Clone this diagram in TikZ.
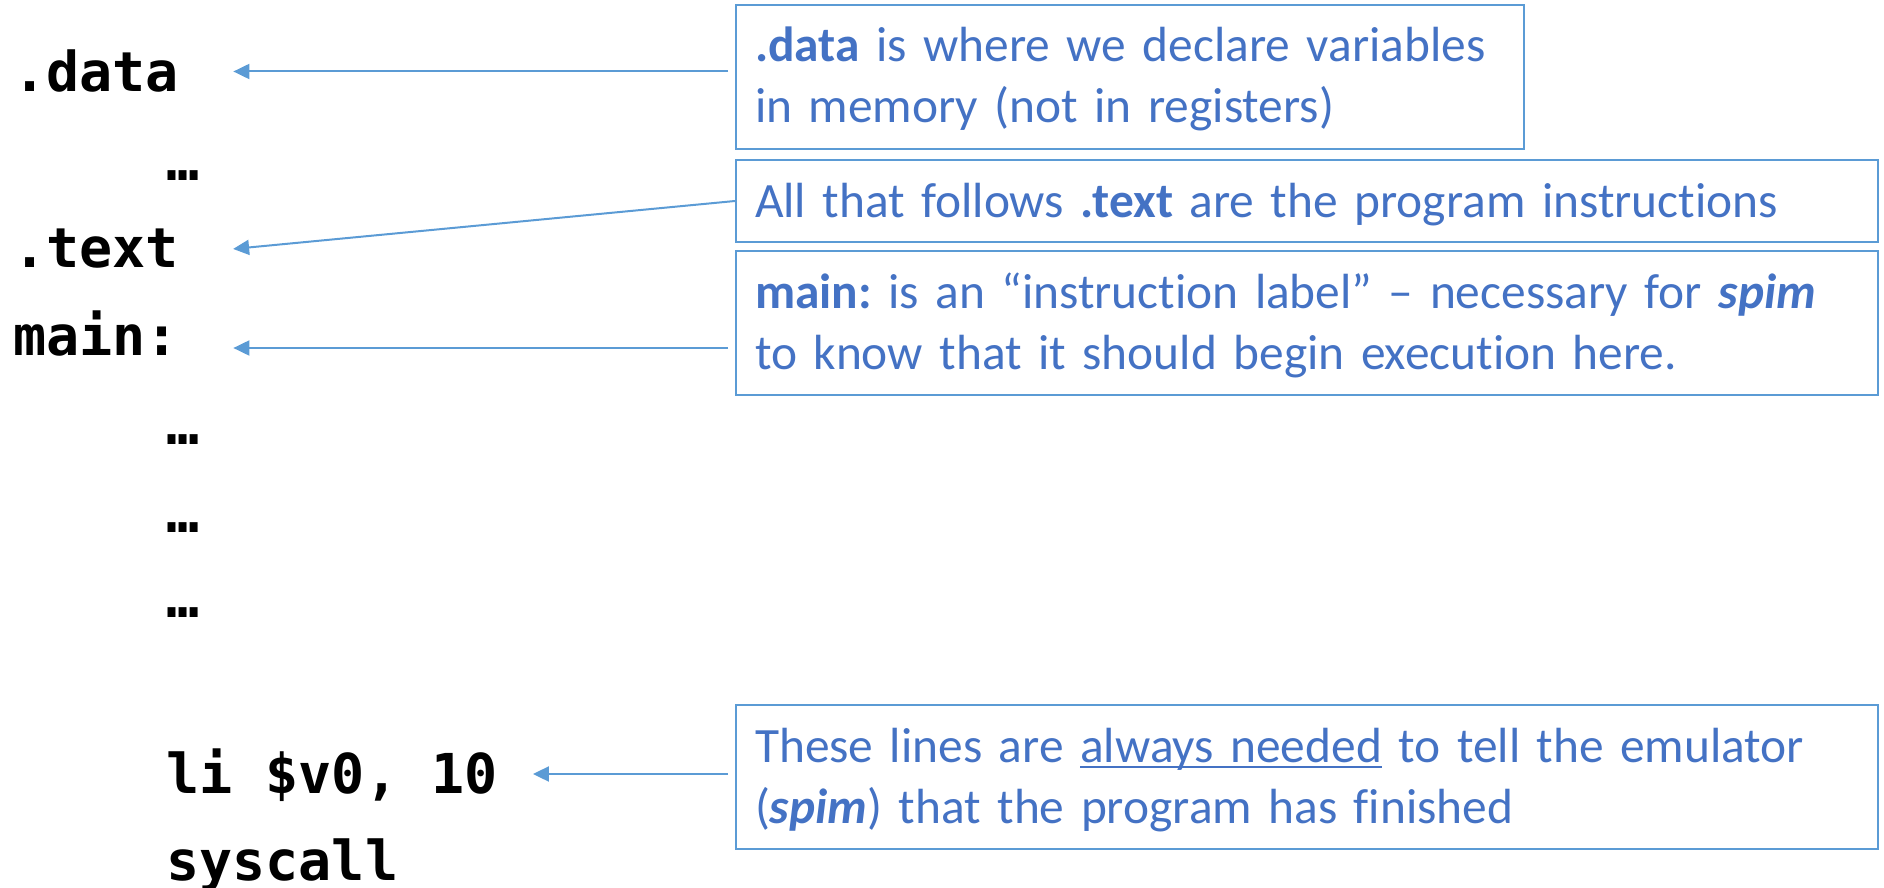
\documentclass[tikz,border=0pt]{standalone}
\usepackage{fontspec}
\setmainfont{Carlito}[Ligatures=CommonOff]
\setmonofont{DejaVu Sans Mono}
\usetikzlibrary{arrows.meta}
\definecolor{noteblue}{HTML}{4472C4}
\definecolor{edgeblue}{HTML}{5B9BD5}
\newcommand{\noteul}[1]{\leavevmode\setbox0=\hbox{#1}\rlap{\rule[-3pt]{\wd0}{1pt}}\box0\relax}
\frenchspacing

\begin{document}
\begin{tikzpicture}[x=0.5pt,y=-0.5pt,
	asm/.style={anchor=base west,inner sep=0pt,font=\ttfamily\bfseries\fontsize{27.5pt}{33pt}\selectfont},
	remark/.style={draw=edgeblue,line width=1pt,text=noteblue,anchor=base west,align=left,
		inner xsep=9.5pt,inner ysep=0pt,text height=28.5pt,text depth=43.5pt,text width=552pt,
		font=\fontsize{24.7pt}{30.5pt}\selectfont},
	ptr/.style={draw=edgeblue,line width=1pt,-{Triangle[length=8pt,width=7.5pt]}}]
	\useasboundingbox (0,0) rectangle (1884,888);
	% the program
	\node[asm] (data) at (13,92) {.data};
	\node[asm] (dotsA) at (166,180) {…};
	\node[asm] (text) at (13,267) {.text};
	\node[asm] (main) at (13,355) {main:};
	\node[asm] (dotsB) at (166,444) {…};
	\node[asm] (dotsC) at (166,532) {…};
	\node[asm] (dotsD) at (166,617) {…};
	\node[asm] (li) at (166,793) {li \$v0, 10};
	\node[asm] (sys) at (166,880) {syscall};
	% the notes
	\node[remark,text width=375pt] (dnote) at (735,62)
		{\textbf{.data} is where we declare variables\\in memory (not in registers)};
	\node[remark,text depth=12.5pt] (tnote) at (735,217)
		{All that follows \textbf{.text} are the program instructions};
	\node[remark] (mnote) at (735,308)
		{\textbf{main:} is an “instruction label” – necessary for \textbf{\textit{spim}}\\to know that it should begin execution here.};
	\node[remark] (snote) at (735,762)
		{These lines are \noteul{always needed} to tell the emulator\\(\textbf{\textit{spim}}) that the program has finished};
	% pointers
	\draw[ptr,shorten <=3.5pt,shorten >=27pt] (dnote.west |- data.east) -- (data.east);
	\draw[ptr,shorten >=27pt] (tnote.west) -- ([yshift=-3pt]text.east);
	\draw[ptr,shorten <=3.5pt,shorten >=27pt] ([yshift=3.5pt]main.base east -| mnote.west) -- ([yshift=3.5pt]main.base east);
	\draw[ptr,shorten <=3.5pt,shorten >=17.5pt] ([yshift=1.5pt]snote.west) -- ([yshift=1.5pt]snote.west -| li.east);
\end{tikzpicture}
\end{document}
